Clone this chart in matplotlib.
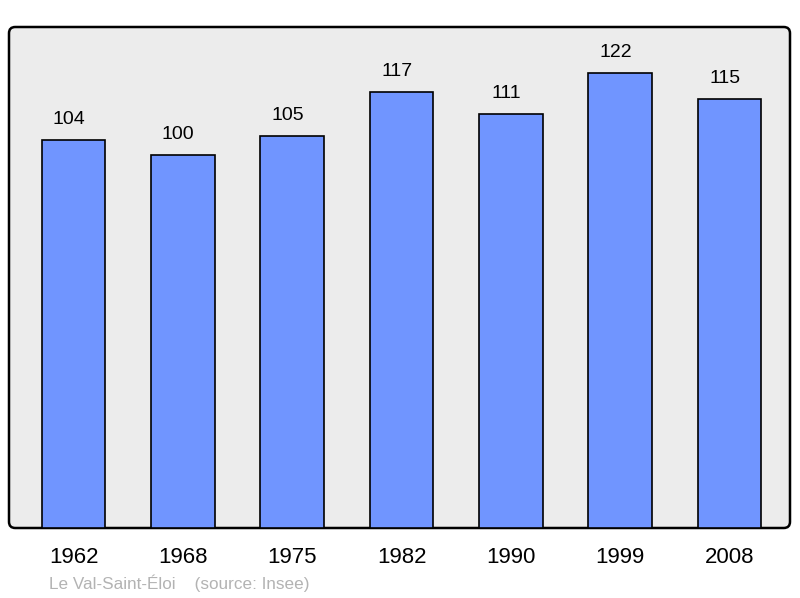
import matplotlib.pyplot as plt
from matplotlib.patches import FancyBboxPatch

years = ['1962', '1968', '1975', '1982', '1990', '1999', '2008']
population = [104, 100, 105, 117, 111, 122, 115]

plt.rcParams['font.family'] = ['Liberation Sans', 'DejaVu Sans']

fig = plt.figure(figsize=(8, 5.98), dpi=100)
W, H = 800, 598
ax = fig.add_axes([9 / W, (H - 528) / H, (790 - 9) / W, (528 - 27) / H])
ax.set_facecolor('none')

# fond gris arrondi
frame = FancyBboxPatch((0, 0), 1, 1, boxstyle='round,pad=0,rounding_size=0.008',
                       transform=ax.transAxes, facecolor='#ececec', edgecolor='black',
                       linewidth=1.8, zorder=0, clip_on=False, mutation_aspect=781 / 501)
ax.add_patch(frame)

x = list(range(len(years)))
ax.bar(x, population, width=0.58, color='#7095ff', edgecolor='black', linewidth=1.2, zorder=2)

for xi, v in zip(x, population):
    ax.annotate(str(v), (xi, v), xytext=(-3.5, 8.5), textcoords='offset points',
                ha='center', va='bottom', fontsize=14)

ax.set_xlim(-0.59, 6.553)
ax.set_ylim(0, 134.3)
for s in ax.spines.values():
    s.set_visible(False)
ax.set_yticks([])
ax.set_xticks(x)
ax.set_xticklabels(years, fontsize=16)
ax.tick_params(axis='x', length=0, pad=14)

fig.text(49 / W, 1 - 583 / H, 'Le Val-Saint-Éloi    (source: Insee)', color='#b3b3b3',
         fontsize=12.3, ha='left', va='center')

fig.savefig('out.png', dpi=100)
